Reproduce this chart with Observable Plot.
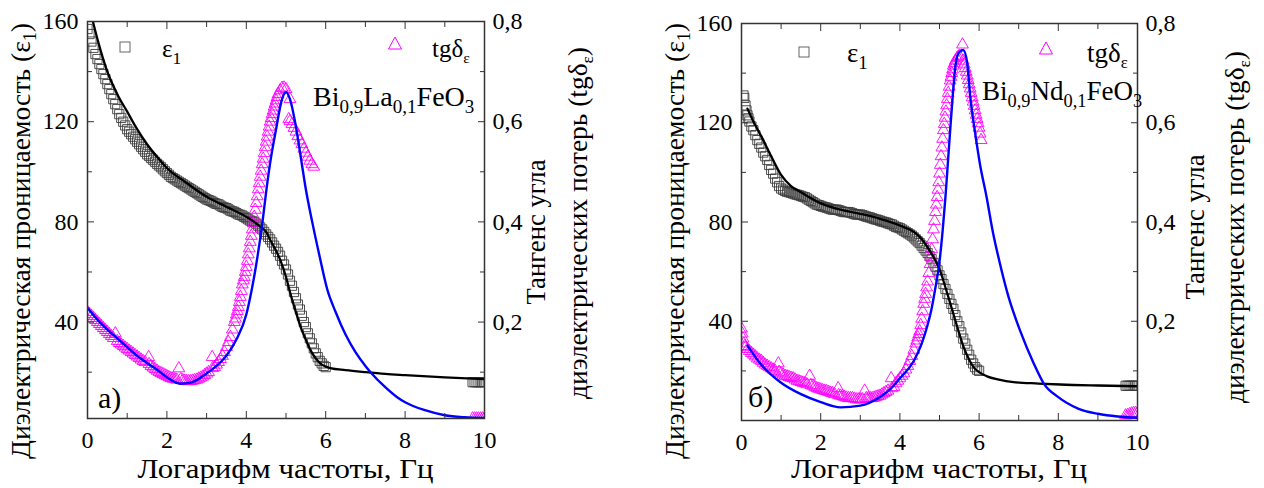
<!DOCTYPE html>
<html><head><meta charset="utf-8">
<script src="https://cdn.jsdelivr.net/npm/d3@7"></script>
<script src="https://cdn.jsdelivr.net/npm/@observablehq/plot@0.6"></script>
<style>
body{margin:0;background:#fff;}
#wrap{position:relative;width:1264px;height:488px;overflow:hidden;background:#fff;}
#wrap svg{position:absolute;top:0;overflow:visible;}
#wrap svg text, #wrap svg tspan{font-family:"Liberation Serif", Tinos, serif;}
</style></head><body><div id="wrap"></div>
<script>
// ---------- data (x = log frequency, ε1 on left axis, tgδ on right axis) ----------
const xTicksMajor = [0, 2, 4, 6, 8, 10];
const xTicksMinor = [1, 3, 5, 7, 9];
const epsTicksMajor = [40, 80, 120, 160];
const epsTicksMinor = [20, 60, 100, 140];
const tgTickLabels = ["0,2", "0,4", "0,6", "0,8"];

// panel а) Bi0,9La0,1FeO3
const epsA = [[0,157],[0.05,155],[0.1,152],[0.15,149.5],[0.2,147],[0.25,145],[0.3,143],[0.35,141],[0.4,139],[0.45,137],[0.5,135],[0.55,133],[0.6,131],[0.65,129],[0.7,127],[0.75,125],[0.8,123],[0.85,121.5],[0.9,120],[0.95,118.5],[1,117],[1.05,116],[1.1,115],[1.15,114],[1.2,113],[1.25,112],[1.3,111],[1.35,110],[1.4,109],[1.45,108],[1.5,107],[1.55,106.3],[1.6,105.5],[1.65,104.8],[1.7,104],[1.75,103.2],[1.8,102.5],[1.85,101.8],[1.9,101],[1.95,100.2],[2,99.5],[2.05,98.8],[2.1,98],[2.15,97.5],[2.2,97],[2.25,96.5],[2.3,96],[2.35,95.5],[2.4,95],[2.45,94.5],[2.5,94],[2.55,93.5],[2.6,93],[2.65,92.5],[2.7,92],[2.75,91.5],[2.8,91],[2.85,90.5],[2.9,90],[2.95,89.5],[3,89],[3.05,88.7],[3.1,88.4],[3.15,88],[3.2,87.5],[3.25,87.2],[3.3,87],[3.35,86.5],[3.4,86],[3.45,85.7],[3.5,85.5],[3.55,85],[3.6,84.5],[3.65,84.2],[3.7,84],[3.75,83.5],[3.8,83],[3.85,82.8],[3.9,82.5],[3.95,82],[4,81.5],[4.05,81],[4.1,80.5],[4.15,80.2],[4.2,80],[4.25,79.3],[4.3,78.5],[4.35,77.8],[4.4,77],[4.45,76],[4.5,75],[4.55,74],[4.6,73],[4.65,71.8],[4.7,70.5],[4.75,69.3],[4.8,68],[4.85,66.5],[4.9,64.5],[4.95,63],[5,61],[5.05,59],[5.1,56.5],[5.15,54.5],[5.2,52],[5.25,49.5],[5.3,47],[5.35,45],[5.4,42.5],[5.45,40],[5.5,38],[5.55,35.5],[5.6,33.5],[5.65,31.5],[5.7,29.5],[5.75,27.5],[5.8,26],[5.85,24.5],[5.9,23.5],[5.95,22.5],[6,22],[9.7,16],[9.75,16],[9.8,16],[9.85,16],[9.9,16],[9.95,16],[10,16]];
const epsFitA = [[0.12,161],[0.25,153],[0.5,140],[0.75,131],[1,124],[1.25,117],[1.5,111],[1.75,106],[2,101.5],[2.5,95.5],[3,90],[3.5,86],[4,82],[4.2,80],[4.36,78],[4.5,76],[4.61,72.6],[4.75,68.5],[4.86,64.6],[5.0,58],[5.11,51.4],[5.25,44],[5.37,38],[5.5,33],[5.62,28.7],[5.75,25.5],[5.87,23.4],[6.0,22.2],[6.12,21.6],[6.5,20.8],[7,20],[7.5,19.3],[8,18.8],[9,17.9],[10,17.2]];
const tgA = [[0,0.22],[0.05,0.216],[0.1,0.212],[0.15,0.208],[0.2,0.204],[0.25,0.2],[0.3,0.196],[0.35,0.192],[0.4,0.188],[0.45,0.184],[0.5,0.18],[0.55,0.176],[0.6,0.172],[0.65,0.168],[0.7,0.1775],[0.75,0.162],[0.8,0.158],[0.85,0.155],[0.9,0.152],[0.95,0.149],[1,0.146],[1.05,0.143],[1.1,0.14],[1.15,0.137],[1.2,0.134],[1.25,0.131],[1.3,0.128],[1.35,0.125],[1.4,0.122],[1.45,0.12],[1.54,0.13],[1.55,0.116],[1.6,0.112],[1.65,0.109],[1.7,0.106],[1.75,0.103],[1.8,0.1],[1.85,0.098],[1.9,0.096],[1.95,0.094],[2,0.092],[2.05,0.09],[2.1,0.088],[2.15,0.087],[2.2,0.086],[2.25,0.085],[2.3,0.1075],[2.35,0.086],[2.4,0.084],[2.45,0.083],[2.5,0.082],[2.55,0.082],[2.6,0.082],[2.65,0.083],[2.7,0.084],[2.75,0.085],[2.8,0.087],[2.85,0.089],[2.9,0.091],[2.95,0.094],[3,0.097],[3.05,0.1],[3.14,0.13],[3.15,0.108],[3.2,0.11],[3.25,0.115],[3.3,0.12],[3.35,0.126],[3.4,0.1325],[3.45,0.14],[3.5,0.15],[3.55,0.16],[3.6,0.17],[3.65,0.185],[3.7,0.2],[3.725,0.207],[3.75,0.215],[3.775,0.222],[3.8,0.23],[3.825,0.24],[3.85,0.25],[3.875,0.262],[3.9,0.275],[3.925,0.283],[3.95,0.29],[3.975,0.3],[4,0.31],[4.025,0.322],[4.05,0.335],[4.075,0.347],[4.1,0.36],[4.125,0.372],[4.15,0.385],[4.175,0.397],[4.2,0.41],[4.225,0.424],[4.25,0.4375],[4.275,0.451],[4.3,0.465],[4.325,0.477],[4.35,0.49],[4.375,0.502],[4.4,0.515],[4.425,0.526],[4.45,0.5375],[4.475,0.549],[4.5,0.56],[4.525,0.57],[4.55,0.58],[4.575,0.59],[4.6,0.6],[4.625,0.607],[4.65,0.615],[4.675,0.622],[4.7,0.63],[4.725,0.636],[4.75,0.6425],[4.775,0.649],[4.8,0.655],[4.85,0.6625],[4.9,0.6675],[4.95,0.668],[5,0.665],[5.1,0.645],[5.07,0.605],[5.1,0.601],[5.15,0.595],[5.2,0.5875],[5.25,0.58],[5.3,0.571],[5.35,0.5625],[5.4,0.555],[5.45,0.546],[5.5,0.538],[5.55,0.53],[5.6,0.522],[5.65,0.515],[5.7,0.51],[9.7,0.0075],[9.75,0.0075],[9.8,0.0075],[9.85,0.0075],[9.9,0.0075],[9.95,0.0075],[10,0.0075]];
const tgFitA = [[0,0.228],[0.25,0.205],[0.5,0.185],[0.75,0.1675],[1.0,0.15],[1.25,0.1325],[1.5,0.1185],[1.75,0.105],[2.0,0.09],[2.34,0.077],[2.6,0.079],[3.0,0.0975],[3.25,0.1125],[3.5,0.133],[3.75,0.165],[4,0.215],[4.1,0.25],[4.25,0.315],[4.4,0.395],[4.5,0.46],[4.6,0.5175],[4.75,0.585],[4.9,0.645],[5,0.659],[5.1,0.645],[5.25,0.59],[5.4,0.515],[5.5,0.465],[5.66,0.4],[5.85,0.33],[6.04,0.265],[6.25,0.22],[6.5,0.175],[6.75,0.14],[7,0.1125],[7.13,0.1],[7.5,0.07],[7.8,0.05],[8,0.04],[8.5,0.024],[9,0.014],[9.5,0.01],[10,0.0085]];

// panel б) Bi0,9Nd0,1FeO3
const epsB = [[0.05,131],[0.07,130],[0.1,127],[0.125,125],[0.15,123],[0.175,121.8],[0.2,120.5],[0.25,118.5],[0.3,117],[0.35,115],[0.4,113],[0.45,111.5],[0.5,110],[0.55,108],[0.6,106.5],[0.65,105],[0.7,103],[0.75,101],[0.8,99.5],[0.85,97.5],[0.9,96],[0.95,94.5],[1,93.5],[1.05,93],[1.1,92.5],[1.15,92.2],[1.2,92],[1.25,91.8],[1.3,91.5],[1.35,91.2],[1.4,91],[1.45,90.8],[1.5,90.5],[1.55,90.2],[1.6,90],[1.65,89.5],[1.7,89],[1.75,88.5],[1.8,88],[1.85,87.5],[1.9,87],[1.95,86.8],[2,86.5],[2.05,86.2],[2.1,86],[2.15,85.8],[2.2,85.5],[2.25,85.2],[2.3,85],[2.35,85],[2.4,85],[2.45,84.8],[2.5,84.5],[2.55,84.2],[2.6,84],[2.65,84],[2.7,84],[2.75,83.8],[2.8,83.5],[2.85,83.2],[2.9,83],[2.95,83],[3,83],[3.05,82.8],[3.1,82.5],[3.15,82.2],[3.2,82],[3.25,81.8],[3.3,81.5],[3.35,81.2],[3.4,81],[3.45,80.8],[3.5,80.5],[3.55,80.2],[3.6,80],[3.65,79.8],[3.7,79.5],[3.75,79.2],[3.8,79],[3.85,78.5],[3.9,78],[3.95,77.8],[4,77.5],[4.05,77],[4.1,76.5],[4.15,76],[4.2,75.5],[4.25,75],[4.3,74.5],[4.35,73.8],[4.4,73],[4.45,72.2],[4.5,71.5],[4.55,70.5],[4.6,69.5],[4.65,68.5],[4.7,67.5],[4.75,66.2],[4.8,65],[4.85,63.5],[4.9,62],[4.95,60.5],[5,58.5],[5.05,57],[5.1,55],[5.15,53],[5.2,51],[5.25,49],[5.3,47],[5.35,45],[5.4,42.5],[5.45,40],[5.5,38],[5.55,35.5],[5.6,33],[5.65,31],[5.7,28.5],[5.75,26.5],[5.8,24.5],[5.85,23],[5.9,21.5],[5.95,20.5],[6,20],[9.7,14],[9.75,14],[9.8,14],[9.85,14],[9.9,14],[9.95,14],[10,14]];
const epsFitB = [[0.15,125.7],[0.3,120.5],[0.5,114.5],[0.75,106.5],[1.0,99],[1.25,94.5],[1.5,92],[2.0,87.5],[2.5,85],[3.0,83.3],[3.5,81.3],[4.0,78.6],[4.35,76],[4.5,74],[4.77,68],[5.0,61],[5.2,51],[5.35,43],[5.5,35],[5.6,30],[5.75,24.5],[5.86,21.5],[6.0,19.5],[6.2,17.8],[6.5,16.5],[6.87,15.5],[7.5,14.9],[8.05,14.5],[9,14.1],[10,13.8]];
const tgB = [[0,0.185],[0.02,0.175],[0.04,0.165],[0.06,0.155],[0.08,0.15],[0.1,0.1475],[0.15,0.144],[0.2,0.14],[0.25,0.136],[0.3,0.1325],[0.35,0.129],[0.4,0.125],[0.45,0.1225],[0.5,0.12],[0.55,0.116],[0.6,0.1125],[0.65,0.11],[0.7,0.1075],[0.75,0.105],[0.8,0.1025],[0.85,0.1],[0.93,0.115],[0.95,0.098],[1,0.095],[1.05,0.0925],[1.1,0.09],[1.15,0.089],[1.2,0.0875],[1.25,0.086],[1.3,0.085],[1.35,0.0825],[1.4,0.08],[1.45,0.079],[1.5,0.0775],[1.55,0.076],[1.6,0.075],[1.65,0.073],[1.72,0.09],[1.75,0.071],[1.8,0.07],[1.85,0.0675],[1.9,0.065],[1.95,0.064],[2,0.0625],[2.05,0.061],[2.1,0.06],[2.15,0.059],[2.2,0.0575],[2.25,0.056],[2.3,0.055],[2.35,0.053],[2.44,0.065],[2.45,0.051],[2.5,0.05],[2.55,0.049],[2.6,0.0475],[2.65,0.046],[2.7,0.045],[2.75,0.045],[2.8,0.045],[2.85,0.044],[2.9,0.0425],[2.95,0.0425],[3,0.0425],[3.05,0.043],[3.11,0.06],[3.15,0.045],[3.2,0.045],[3.25,0.045],[3.3,0.045],[3.35,0.046],[3.4,0.0475],[3.45,0.049],[3.5,0.05],[3.55,0.0525],[3.6,0.055],[3.65,0.0575],[3.7,0.06],[3.78,0.085],[3.8,0.065],[3.85,0.0675],[3.9,0.075],[3.95,0.08],[4,0.085],[4.05,0.09],[4.1,0.095],[4.15,0.1025],[4.2,0.11],[4.25,0.12],[4.3,0.13],[4.35,0.1425],[4.4,0.155],[4.425,0.161],[4.45,0.1675],[4.475,0.174],[4.5,0.18],[4.525,0.192],[4.55,0.205],[4.575,0.22],[4.6,0.235],[4.625,0.245],[4.65,0.255],[4.675,0.268],[4.7,0.28],[4.73,0.297],[4.76,0.315],[4.78,0.33],[4.8,0.345],[4.825,0.365],[4.85,0.385],[4.875,0.402],[4.9,0.42],[4.92,0.435],[4.94,0.45],[4.96,0.465],[4.98,0.48],[5,0.4975],[5.02,0.515],[5.04,0.5325],[5.06,0.55],[5.08,0.5675],[5.1,0.585],[5.12,0.5975],[5.14,0.61],[5.16,0.6225],[5.18,0.635],[5.2,0.6475],[5.22,0.66],[5.245,0.6725],[5.27,0.685],[5.29,0.6925],[5.31,0.7],[5.33,0.7075],[5.35,0.715],[5.375,0.72],[5.4,0.725],[5.44,0.73],[5.47,0.7325],[5.5,0.735],[5.58,0.7575],[5.6,0.725],[5.625,0.7175],[5.65,0.71],[5.675,0.7025],[5.7,0.695],[5.725,0.686],[5.75,0.6775],[5.775,0.669],[5.8,0.66],[5.825,0.651],[5.85,0.6425],[5.875,0.634],[5.9,0.625],[5.925,0.616],[5.95,0.6075],[5.975,0.599],[6,0.59],[6.025,0.578],[6.05,0.565],[9.7,0.01],[9.75,0.011],[9.8,0.0125],[9.85,0.014],[9.9,0.015],[9.95,0.015],[10,0.015]];
const tgFitB = [[0.15,0.151],[0.5,0.1125],[1,0.076],[1.5,0.053],[2,0.037],[2.5,0.0265],[3,0.03],[3.5,0.0475],[3.75,0.0625],[4,0.085],[4.35,0.12],[4.55,0.155],[4.69,0.19],[4.8,0.225],[4.88,0.26],[5.0,0.32],[5.08,0.383],[5.15,0.45],[5.21,0.5175],[5.27,0.585],[5.33,0.65],[5.41,0.719],[5.5,0.7425],[5.6,0.7465],[5.7,0.72],[5.78,0.65],[5.89,0.585],[6.02,0.5175],[6.19,0.45],[6.34,0.383],[6.53,0.315],[6.74,0.25],[7.04,0.18],[7.38,0.115],[7.63,0.075],[8,0.047],[8.5,0.024],[9,0.0135],[9.5,0.008],[10,0.0055]];

// ---------- drawing ----------
const FONT = "Liberation Serif";
const TG_TO_EPS = 200; // right axis 0..0.8 shares the frame with left axis 0..160
const FRAME = "#333";

function addText(svg, {x, y, parts, size, subSize, subShift, anchor = "start", rotate = 0, length = null}) {
  const t = svg.append("text")
    .attr("transform", `translate(${x},${y})` + (rotate ? ` rotate(${rotate})` : ""))
    .attr("text-anchor", anchor).attr("fill", "#000")
    .attr("font-family", FONT).attr("font-size", size);
  if (length) t.attr("textLength", length).attr("lengthAdjust", "spacingAndGlyphs");
  let shifted = false;
  for (const [s, sub] of parts) {
    const ts = t.append("tspan").text(s);
    if (sub) {
      ts.attr("font-size", subSize);
      if (!shifted) { ts.attr("dy", subShift); shifted = true; }
    } else if (shifted) { ts.attr("dy", -subShift); shifted = false; }
  }
  return t;
}

function panel(cfg) {
  const P = d => ({x: d[0], y: d[1]});
  const T = d => ({x: d[0], y: d[1] * TG_TO_EPS});
  const svgNode = Plot.plot({
    width: 632, height: 488,
    marginLeft: cfg.ml, marginRight: 632 - cfg.mr, marginTop: cfg.mt, marginBottom: 488 - cfg.mb,
    style: {fontFamily: FONT, fontSize: "24px", color: "#000", background: "transparent"},
    x: {domain: [0, 10]},
    y: {domain: cfg.yDomain},
    marks: [
      Plot.dot(cfg.eps.map(P), {x: "x", y: "y", symbol: "square", r: 5.2, stroke: "#3c3c3c", strokeWidth: 0.9, fill: "none", clip: true}),
      Plot.dot(cfg.tg.map(T), {x: "x", y: "y", symbol: "triangle", r: 4.4, stroke: "#ff00ff", strokeWidth: 0.9, fill: "none", clip: true}),
      Plot.line(cfg.epsFit.map(P), {x: "x", y: "y", stroke: "#000", strokeWidth: 2.3, curve: "monotone-x", clip: true}),
      Plot.line(cfg.tgFit.map(T), {x: "x", y: "y", stroke: "#0000ff", strokeWidth: 2.4, curve: "monotone-x", clip: true}),
      // inward ticks on all four sides
      Plot.axisX(xTicksMajor, {anchor: "bottom", tickSize: 7, dy: -7, fill: "none", stroke: FRAME, label: null}),
      Plot.axisX(xTicksMinor, {anchor: "bottom", tickSize: 5, dy: -5, fill: "none", stroke: FRAME, label: null}),
      Plot.axisX(xTicksMajor, {anchor: "top", tickSize: 7, dy: 7, fill: "none", stroke: FRAME, label: null}),
      Plot.axisX(xTicksMinor, {anchor: "top", tickSize: 5, dy: 5, fill: "none", stroke: FRAME, label: null}),
      Plot.axisY(epsTicksMajor, {anchor: "left", tickSize: 7, dx: 7, fill: "none", stroke: FRAME, label: null}),
      Plot.axisY(epsTicksMinor, {anchor: "left", tickSize: 5, dx: 5, fill: "none", stroke: FRAME, label: null}),
      Plot.axisY(epsTicksMajor, {anchor: "right", tickSize: 7, dx: -7, fill: "none", stroke: FRAME, label: null}),
      Plot.axisY(epsTicksMinor, {anchor: "right", tickSize: 5, dx: -5, fill: "none", stroke: FRAME, label: null}),
      // tick labels
      Plot.axisX(xTicksMajor, {anchor: "bottom", tickSize: 0, tickPadding: 12, tickFormat: d => String(d), label: null}),
      Plot.axisY(epsTicksMajor, {anchor: "left", tickSize: 0, tickPadding: 9, tickFormat: d => String(d), label: null}),
      Plot.axisY(epsTicksMajor, {anchor: "right", tickSize: 0, tickPadding: 8, tickFormat: (d, i) => tgTickLabels[i], label: null}),
      Plot.frame({stroke: FRAME, strokeWidth: 1.5})
    ]
  });
  svgNode.setAttribute("font-family", FONT);
  svgNode.style.left = cfg.left + "px";
  document.getElementById("wrap").appendChild(svgNode);
  const svg = d3.select(svgNode);
  const o = -cfg.left; // global → local x
  const cx = (cfg.ml + cfg.mr) / 2;

  // axis titles
  addText(svg, {x: cfg.leftTitleX + o, y: 241, rotate: -90, anchor: "middle", size: 28, subSize: 18, subShift: 6, length: 436,
    parts: [["Диэлектрическая проницаемость (ε"], ["1", true], [")"]]});
  addText(svg, {x: cx, y: 478, anchor: "middle", size: 28, subSize: 18, subShift: 6, length: 296,
    parts: [["Логарифм частоты, Гц"]]});
  addText(svg, {x: cfg.right1X + o, y: cfg.right1Y, rotate: -90, anchor: "middle", size: 27, subSize: 17, subShift: 6, length: 145,
    parts: [["Тангенс угла"]]});
  addText(svg, {x: cfg.right2X + o, y: cfg.right2Y, rotate: -90, anchor: "middle", size: 27, subSize: 17, subShift: 6, length: 352,
    parts: [["диэлектрических потерь (tgδ"], ["ε", true], [")"]]});

  // legend
  const [sx, sy] = cfg.sq;
  svg.append("rect").attr("x", sx - 5 + o).attr("y", sy - 5).attr("width", 10).attr("height", 10)
    .attr("fill", "none").attr("stroke", "#666").attr("stroke-width", 1);
  const [tx, ty] = cfg.tri;
  svg.append("path").attr("d", `M${tx + o},${ty - 7}L${tx + o + 6.5},${ty + 5}L${tx + o - 6.5},${ty + 5}Z`)
    .attr("fill", "none").attr("stroke", "#ff00ff").attr("stroke-width", 1);
  addText(svg, {x: cfg.epsLbl[0] + o, y: cfg.epsLbl[1], size: cfg.legSize, subSize: cfg.legSize * 0.7, subShift: 7,
    parts: [["ε"], ["1", true]]});
  addText(svg, {x: cfg.tgLbl[0] + o, y: cfg.tgLbl[1], size: cfg.legSize, subSize: cfg.legSize * 0.62, subShift: 6,
    parts: [["tgδ"], ["ε", true]]});
  addText(svg, {x: cfg.formula[0] + o, y: cfg.formula[1], size: cfg.formulaSize, subSize: cfg.formulaSize * 0.68, subShift: 7,
    parts: cfg.formulaParts});
  addText(svg, {x: cfg.letter[0] + o, y: cfg.letter[1], size: 30, subSize: 18, subShift: 0,
    parts: [[cfg.letterText]]});
}

panel({
  left: 0, ml: 87, mr: 484, mt: 21, mb: 418, yDomain: [1.5, 160],
  eps: epsA, epsFit: epsFitA, tg: tgA, tgFit: tgFitA,
  leftTitleX: 30, right1X: 545, right1Y: 232, right2X: 587, right2Y: 223,
  sq: [125, 47], tri: [395, 44], epsLbl: [162, 57], tgLbl: [432, 57], legSize: 25,
  formula: [313, 106], formulaSize: 28, formulaParts: [["Bi"], ["0,9", true], ["La"], ["0,1", true], ["FeO"], ["3", true]],
  letter: [98, 408], letterText: "а)"
});
panel({
  left: 632, ml: 741 - 632, mr: 1137 - 632, mt: 23, mb: 420, yDomain: [0, 160],
  eps: epsB, epsFit: epsFitB, tg: tgB, tgFit: tgFitB,
  leftTitleX: 684, right1X: 1204, right1Y: 227, right2X: 1244, right2Y: 227,
  sq: [804, 52], tri: [1046, 49], epsLbl: [847, 62], tgLbl: [1087, 62], legSize: 27,
  formula: [982, 100], formulaSize: 27, formulaParts: [["Bi"], ["0,9", true], ["Nd"], ["0,1", true], ["FeO"], ["3", true]],
  letter: [748, 407], letterText: "б)"
});
</script></body></html>
